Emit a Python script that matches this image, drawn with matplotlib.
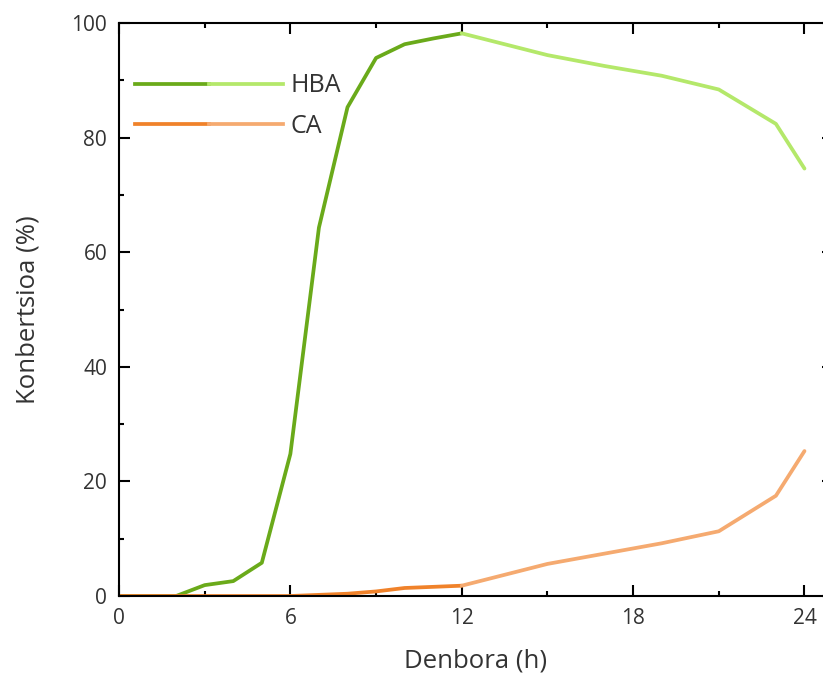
import matplotlib
matplotlib.use('Agg')
import matplotlib.pyplot as plt
from matplotlib.lines import Line2D
from matplotlib.legend_handler import HandlerTuple
from matplotlib.ticker import MultipleLocator

plt.rcParams['font.family'] = ['Open Sans', 'DejaVu Sans']

# datuak (denbora h, konbertsioa %)
hba_t1 = [0, 1, 2, 3, 4, 5, 6, 7, 8, 9, 10, 11, 12]
hba_y1 = [0, 0, 0, 1.9, 2.6, 5.8, 24.8, 64.3, 85.3, 93.9, 96.3, 97.3, 98.2]
hba_t2 = [12, 15, 17, 19, 21, 23, 24]
hba_y2 = [98.2, 94.4, 92.5, 90.8, 88.4, 82.4, 74.6]

ca_t1 = [0, 1, 2, 3, 4, 5, 6, 7, 8, 9, 10, 11, 12]
ca_y1 = [0, 0, 0, 0, 0, 0, 0, 0.2, 0.4, 0.8, 1.4, 1.6, 1.8]
ca_t2 = [12, 15, 18, 19, 21, 23, 24]
ca_y2 = [1.8, 5.6, 8.3, 9.2, 11.3, 17.5, 25.3]

labels = ['HBA', 'CA']
c_hba = ('#6aaa1a', '#b4e86a')
c_ca = ('#f0822a', '#f5aa70')

text_c = '#333333'
lw = 2.7


def main():
    fig = plt.figure(figsize=(8.23, 6.81), dpi=100)
    ax = fig.add_axes([0.1446, 0.1248, 0.8676, 0.8414])

    ax.plot(hba_t1, hba_y1, color=c_hba[0], lw=lw, solid_capstyle='round')
    ax.plot(hba_t2, hba_y2, color=c_hba[1], lw=lw, solid_capstyle='round')
    ax.plot(ca_t1, ca_y1, color=c_ca[0], lw=lw, solid_capstyle='round')
    ax.plot(ca_t2, ca_y2, color=c_ca[1], lw=lw, solid_capstyle='round')

    ax.set_xlim(0, 25)
    ax.set_ylim(0, 100)
    ax.xaxis.set_major_locator(MultipleLocator(6))
    ax.xaxis.set_minor_locator(MultipleLocator(3))
    ax.yaxis.set_major_locator(MultipleLocator(20))
    ax.yaxis.set_minor_locator(MultipleLocator(10))
    ax.tick_params(which='both', direction='in', top=True, right=True, width=1.5,
                   labelsize=15, labelcolor=text_c, pad=8.5)
    ax.tick_params(which='major', length=7.7)
    ax.tick_params(which='minor', length=3.6)
    for s in ax.spines.values():
        s.set_linewidth(1.5)

    ax.set_xlabel('Denbora (h)', fontsize=18.5, color=text_c, labelpad=14)
    ax.set_ylabel('Konbertsioa (%)', fontsize=18.5, color=text_c, labelpad=22)

    # legenda: zati iluna + zati argia
    h_hba = (Line2D([], [], color=c_hba[0], lw=lw), Line2D([], [], color=c_hba[1], lw=lw))
    h_ca = (Line2D([], [], color=c_ca[0], lw=lw), Line2D([], [], color=c_ca[1], lw=lw))
    leg = ax.legend([h_hba, h_ca], labels,
                    handler_map={tuple: HandlerTuple(ndivide=None, pad=0)},
                    loc='upper left', bbox_to_anchor=(0.0224, 0.912),
                    frameon=False, fontsize=18, handlelength=5.92, handletextpad=0.28,
                    labelspacing=0.61, borderpad=0, borderaxespad=0)
    for t in leg.get_texts():
        t.set_color(text_c)

    fig.savefig('out.png', dpi=100)


if __name__ == '__main__':
    main()
